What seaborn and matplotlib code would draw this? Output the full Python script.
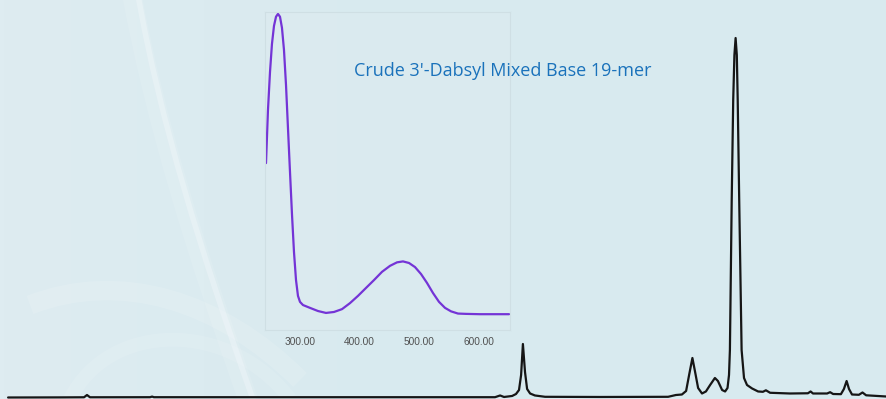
import numpy as np
import pandas as pd
import matplotlib
matplotlib.use("Agg")
import matplotlib.pyplot as plt
from matplotlib.path import Path
from matplotlib.patches import PathPatch
from matplotlib.ticker import FormatStrFormatter, FixedLocator
import seaborn as sns

# ---------------- data ----------------
# Chromatogram (retention time in min, signal in mAU)
chrom_time = [0.27, 2.0, 2.8, 2.9, 3.0, 5.0, 5.07, 5.13, 10.0, 16.5, 16.67, 16.8,
              17.07, 17.2, 17.3, 17.37, 17.43, 17.5, 17.57, 17.67, 17.83, 18.17,
              20.0, 22.27, 22.53, 22.73, 22.87, 22.97, 23.08, 23.17, 23.27, 23.4,
              23.53, 23.67, 23.83, 23.93, 24.07, 24.17, 24.25, 24.3, 24.33, 24.39,
              24.44, 24.48, 24.52, 24.56, 24.59, 24.64, 24.72, 24.8, 24.9, 25.07,
              25.27, 25.43, 25.53, 25.67, 26.33, 26.93, 27.02, 27.1, 27.57, 27.67,
              27.77, 28.03, 28.13, 28.22, 28.3, 28.4, 28.63, 28.75, 28.87, 29.53]
chrom_signal = [0.0, 0.03, 0.06, 0.69, 0.06, 0.08, 0.25, 0.08, 0.08, 0.08, 0.56, 0.14,
                0.42, 0.97, 2.08, 6.25, 14.86, 7.08, 2.36, 1.11, 0.56, 0.19,
                0.14, 0.19, 0.69, 0.83, 1.81, 6.25, 10.97, 7.08, 2.64, 1.11,
                1.67, 3.47, 5.42, 4.58, 2.08, 1.67, 2.64, 6.25, 13.19, 54.86,
                82.64, 95.14, 99.86, 95.14, 82.64, 54.86, 13.19, 5.42, 3.47, 2.5,
                1.67, 1.58, 2.0, 1.31, 1.11, 1.17, 1.67, 1.11, 1.11, 1.47,
                0.97, 0.92, 2.36, 4.58, 2.36, 0.83, 0.75, 1.39, 0.61, 0.28]

# UV spectrum of the main peak (wavelength nm, relative absorbance)
uv_wavelength = [242.9, 246.2, 249.6, 252.9, 256.3, 259.7, 263.0, 266.4, 269.7, 273.1,
                 276.5, 279.8, 283.2, 286.6, 289.9, 293.3, 296.6, 300.0, 305.0, 316.8,
                 330.3, 343.7, 357.1, 370.6, 384.0, 397.5, 410.9, 424.4, 437.8, 451.3,
                 463.0, 473.1, 483.2, 493.3, 503.4, 513.4, 523.5, 533.6, 543.7, 553.8,
                 565.5, 579.0, 602.5, 651.3]
uv_absorbance = [0.528, 0.696, 0.816, 0.905, 0.962, 0.991, 1.000, 0.991, 0.956, 0.886,
                 0.775, 0.639, 0.500, 0.364, 0.247, 0.158, 0.108, 0.089, 0.079, 0.070,
                 0.060, 0.054, 0.057, 0.066, 0.085, 0.108, 0.133, 0.158, 0.184, 0.203,
                 0.214, 0.217, 0.212, 0.199, 0.177, 0.149, 0.117, 0.089, 0.070, 0.059,
                 0.052, 0.051, 0.050, 0.050]
uv_ticks = [300, 400, 500, 600]

title_text = "Crude 3'-Dabsyl Mixed Base 19-mer"

chrom_df = pd.DataFrame({"time": chrom_time, "signal": chrom_signal})
uv_df = pd.DataFrame({"wavelength": uv_wavelength, "absorbance": uv_absorbance})

# ---------------- style ----------------
sns.set_style("white")
plt.rcParams["font.family"] = ["DejaVu Sans"]

W, H = 886, 399
fig = plt.figure(figsize=(W / 100, H / 100), dpi=100)

# decorative background
ax_bg = fig.add_axes([0, 0, 1, 1], zorder=0)
ax_bg.set_xlim(0, W)
ax_bg.set_ylim(H, 0)
ax_bg.axis("off")
gx = np.linspace(0, 1, 200)
gy = np.linspace(0, 1, 100)
GX, GY = np.meshgrid(gx, gy)
base = np.array([216, 234, 239]) / 255.0
left = np.array([222, 236, 241]) / 255.0
mix = np.clip(1 - GX * 2.2, 0, 1)[..., None]
img = base * (1 - mix) + left * mix
ax_bg.imshow(img, extent=[0, W, H, 0], aspect="auto", zorder=0)


def swoosh(pts, lw, alpha):
    codes = [Path.MOVETO] + [Path.CURVE4] * (len(pts) - 1)
    p = PathPatch(Path(pts, codes), facecolor="none", edgecolor="white",
                  lw=lw, alpha=alpha, capstyle="butt", zorder=1)
    ax_bg.add_patch(p)


swoosh([(138, -5), (160, 120), (200, 250), (255, 405)], 4, 0.25)
swoosh([(132, -5), (155, 120), (195, 250), (250, 405)], 14, 0.10)
swoosh([(30, 305), (120, 270), (220, 300), (300, 380)], 14, 0.12)
swoosh([(70, 399), (110, 320), (230, 320), (290, 399)], 10, 0.10)

# chromatogram (full figure)
ax = fig.add_axes([0, 0, 1, 1], zorder=2)
ax.patch.set_alpha(0)
sns.lineplot(data=chrom_df, x="time", y="signal", ax=ax, color="#161616",
             linewidth=1.6, sort=False, estimator=None)
ax.set_xlim(0, 29.533)
ax.set_ylim(-0.42, 110.42)
ax.axis("off")

# inset UV spectrum
ax_in = fig.add_axes([265 / W, 1 - 330 / H, 245 / W, 318 / H], zorder=3)
ax_in.set_facecolor((0.88, 0.93, 0.95, 0.3))
sns.lineplot(data=uv_df, x="wavelength", y="absorbance", ax=ax_in,
             color="#7434d6", linewidth=1.6, sort=False, estimator=None)
ax_in.set_xlim(241.2, 652.9)
ax_in.set_ylim(0, 1.006)
ax_in.xaxis.set_major_locator(FixedLocator(uv_ticks))
ax_in.xaxis.set_major_formatter(FormatStrFormatter("%.2f"))
ax_in.set_yticks([])
ax_in.set_xlabel("")
ax_in.set_ylabel("")
ax_in.tick_params(axis="x", length=0, pad=5, labelsize=7.3, labelcolor="#505050")
for lab in ax_in.get_xticklabels():
    lab.set_fontfamily("Liberation Sans")
for s in ax_in.spines.values():
    s.set_color("#cfdfe4")
    s.set_linewidth(0.8)

# title text
fig.text(503 / W, 1 - 71 / H, title_text, ha="center", va="center",
         color="#1a72bb", fontsize=13, family=["Open Sans", "DejaVu Sans"], zorder=5)

fig.savefig("out.png", dpi=100)
